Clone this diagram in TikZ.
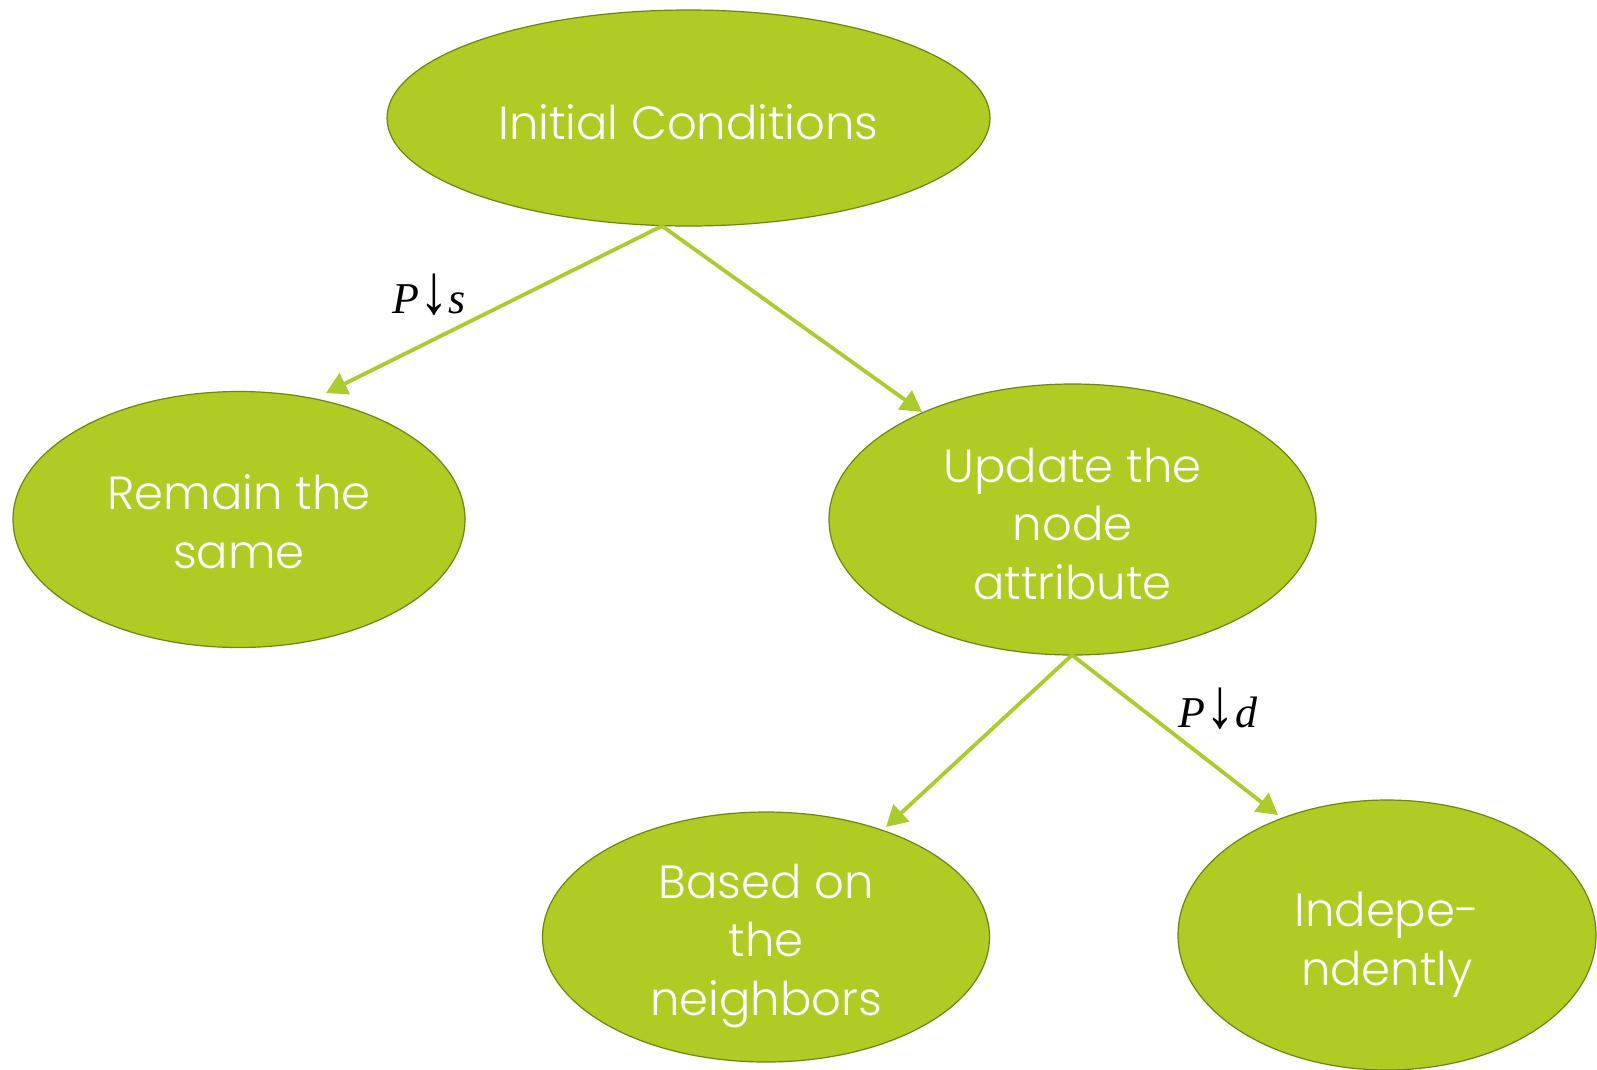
\documentclass[tikz,border=0pt]{standalone}
\usepackage{fontspec}
\setmainfont{Poppins Light}
\newfontfamily\mathserif{Liberation Serif}
\usetikzlibrary{arrows.meta,shapes.geometric}
\definecolor{leaf}{RGB}{176,203,35}
\definecolor{leafdark}{RGB}{112,132,18}
\definecolor{stem}{RGB}{170,205,45}
\newcommand{\probarrow}{\scalebox{1.35}[1.6]{↓}}
\tikzset{
  bubble/.style={ellipse, fill=leaf, draw=leafdark, line width=1.2pt, inner sep=0pt},
  caption/.style={text=white, align=center, inner sep=0pt,
    font=\fontsize{46.5}{58.5}\selectfont},
  link/.style={draw=stem, line width=3.8pt,
    -{Triangle[length=21pt,width=23pt]}},
  prob/.style={font=\fontsize{44}{50}\selectfont\mathserif}
}
\begin{document}
\begin{tikzpicture}[x=1pt,y=-1pt]
  \useasboundingbox (0,0) rectangle (1597,1069);
  % outcome ellipses
  \node[bubble, minimum width=603pt, minimum height=216pt] (init) at (688.5,118) {};
  \node[bubble, minimum width=452pt, minimum height=256pt] (same) at (239,519.5) {};
  \node[bubble, minimum width=487pt, minimum height=271pt] (update) at (1072.5,519.5) {};
  \node[bubble, minimum width=447pt, minimum height=250pt] (neigh) at (766,937) {};
  \node[bubble, minimum width=418pt, minimum height=270pt] (indep) at (1387,935) {};
  % their captions
  \node[caption] (initT) at ([yshift=-4pt]init.center) {Initial Conditions};
  \node[caption] (sameT) at ([yshift=-2pt]same.center) {Remain the\\same};
  \node[caption] (updateT) at ([yshift=-4pt]update.center) {Update the\\node\\attribute};
  \node[caption] (neighT) at ([yshift=-9pt]neigh.center) {Based on\\the\\neighbors};
  \node[caption] (indepT) at ([yshift=-10pt]indep.center) {Indepe-\\ndently};
  % branch points and arrow tips
  \coordinate (s1) at (662,226);
  \coordinate (t1) at (326,393);
  \coordinate (t2) at (922,412);
  \coordinate (s2) at (1072,655);
  \coordinate (t3) at (886,827);
  \coordinate (t4) at (1278,815);
  \draw[link] (s1) -- (t1);
  \draw[link] (s1) -- (t2);
  \draw[link] (s2) -- (t3);
  \draw[link] (s2) -- (t4);
  % branch probabilities
  \node[prob] (ps) at (429,295) {\textit{P}\probarrow\textit{s}};
  \node[prob] (pd) at (1218,709) {\textit{P}\probarrow\textit{d}};
\end{tikzpicture}
\end{document}
